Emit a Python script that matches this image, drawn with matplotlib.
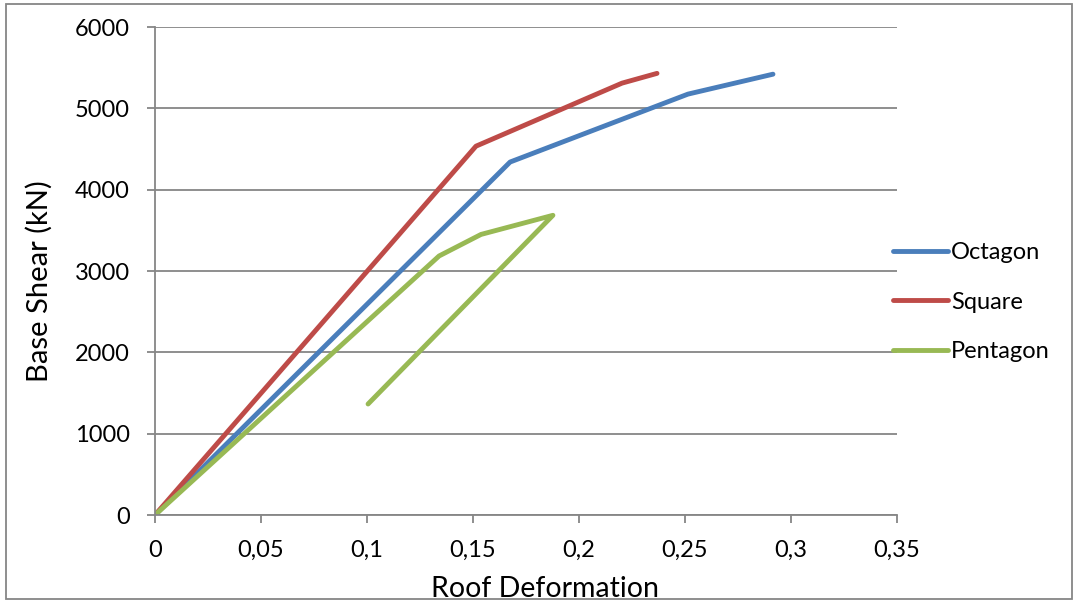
import matplotlib
matplotlib.use("Agg")
from matplotlib import pyplot as plt
from matplotlib.patches import Rectangle
from matplotlib.ticker import FuncFormatter

# roof deformation vs base shear (kN)
oct_x = [0, 0.1675, 0.2514, 0.2915]
oct_y = [0, 4340, 5175, 5420]

sq_x = [0, 0.1514, 0.2203, 0.2368]
sq_y = [0, 4535, 5310, 5430]

pent_x = [0, 0.134, 0.1538, 0.1877, 0.1005]
pent_y = [0, 3185, 3450, 3685, 1365]

x_ticks = [0, 0.05, 0.1, 0.15, 0.2, 0.25, 0.3, 0.35]
y_ticks = [0, 1000, 2000, 3000, 4000, 5000, 6000]

plt.rcParams['font.family'] = ['Lato', 'DejaVu Sans']

fig = plt.figure(figsize=(10.75, 6.03), dpi=100)
ax = fig.add_axes([0.1442, 0.1459, 0.8344 - 0.1442, 0.9552 - 0.1459])

grey = '#868686'
style = dict(lw=3.5, solid_capstyle='round', solid_joinstyle='round')
ax.plot(oct_x, oct_y, color='#4A7EBB', label='Octagon', **style)
ax.plot(sq_x, sq_y, color='#BE4B48', label='Square', **style)
ax.plot(pent_x, pent_y, color='#98B954', label='Pentagon', **style)

ax.set_xlim(0, 0.35)
ax.set_ylim(0, 6000)
ax.set_xticks(x_ticks)
ax.set_yticks(y_ticks)
ax.xaxis.set_major_formatter(FuncFormatter(lambda v, p: ('%g' % round(v, 2)).replace('.', ',')))

ax.yaxis.grid(True, color=grey, lw=1.3)
ax.set_axisbelow(True)
for s in ['top', 'right']:
    ax.spines[s].set_visible(False)
for s in ['left', 'bottom']:
    ax.spines[s].set_color(grey)
    ax.spines[s].set_linewidth(1.3)
ax.tick_params(axis='both', colors=grey, labelcolor='black', labelsize=17, length=6, width=1.3, pad=12)

ax.set_xlabel('Roof Deformation', fontsize=20.5, labelpad=11)
ax.set_ylabel('Base Shear (kN)', fontsize=21, labelpad=16)
ax.xaxis.label.set_x(0.525)
ax.yaxis.label.set_y(0.48)

ax.legend(loc='center left', bbox_to_anchor=(0.9946, 0.436), frameon=False, fontsize=17,
          handlelength=2.35, handletextpad=0.1, labelspacing=1.2,
          borderpad=0, borderaxespad=0)

fig.add_artist(Rectangle((0.006, 0.006), 0.991, 0.988, transform=fig.transFigure,
                         fill=False, edgecolor=grey, lw=1.3))

fig.savefig('out.png', dpi=100)
